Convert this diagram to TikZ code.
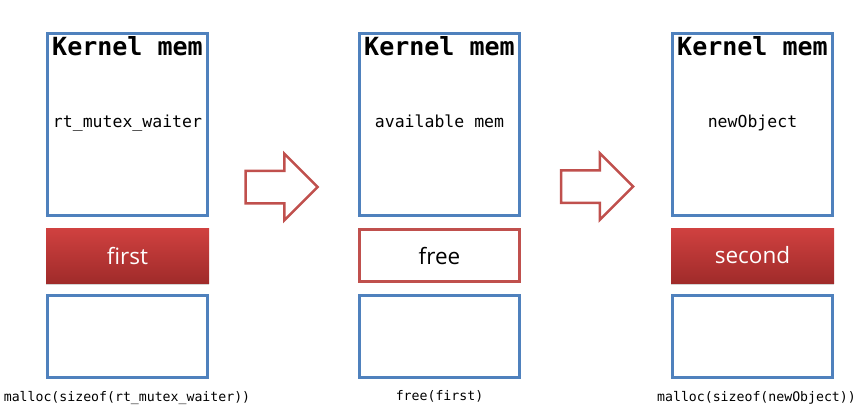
\documentclass[tikz,border=0pt]{standalone}
\usepackage{fontspec}
\setmonofont{DejaVu Sans Mono}
\newfontfamily\chunkfont{Open Sans}
\usetikzlibrary{positioning,shapes.arrows,shadows}
\definecolor{boxblue}{HTML}{4F81BD}
\definecolor{boxred}{HTML}{C0504D}
\definecolor{redtop}{HTML}{D04140}
\definecolor{redbot}{HTML}{A02B2A}
\tikzset{
  membox/.style={draw=boxblue, line width=3pt, minimum width=160pt, inner sep=0pt},
  kernelbox/.style={membox, minimum height=182pt},
  slotbox/.style={membox, minimum height=82pt},
  chunk/.style={minimum width=163pt, minimum height=55pt, inner sep=0pt, font=\chunkfont\fontsize{22.5}{26}\selectfont},
  usedchunk/.style={chunk, top color=redtop, bottom color=redbot, text=white, drop shadow={shadow xshift=0pt, shadow yshift=-2pt, opacity=.35}},
  freechunk/.style={chunk, draw=boxred, line width=3pt, minimum width=160pt, minimum height=52pt},
  heading/.style={font=\ttfamily\bfseries\fontsize{25}{28}\selectfont, anchor=base},
  objname/.style={font=\ttfamily\fontsize{16.5}{19}\selectfont, anchor=base},
  callname/.style={font=\ttfamily\fontsize{13.2}{15}\selectfont, anchor=base},
  stepto/.style={single arrow, draw=boxred, line width=2.5pt, fill=white, minimum height=72pt, inner xsep=0pt, inner ysep=15pt, single arrow head extend=17pt, single arrow head indent=0pt}
}
\begin{document}
\begin{tikzpicture}[x=1pt,y=-1pt]
\useasboundingbox (0,0) rectangle (868,418);
\node[kernelbox] (k1) at (127.5,124.5) {};
\node[usedchunk] (c1) at (127.5,255.5) {first};
\node[slotbox] (s1) at (127.5,336.5) {};
\node[heading] (h1) at (127.5,55) {Kernel mem};
\node[objname] (o1) at (127.5,127.5) {rt\_mutex\_waiter};
\node[callname] (m1) at (127,401.5) {malloc(sizeof(rt\_mutex\_waiter))};

\node[stepto] (a1) at (273.5,187) {};

\node[kernelbox] (k2) at (439.5,124.5) {};
\node[freechunk] (c2) at (439.5,255.5) {free};
\node[slotbox] (s2) at (439.5,336.5) {};
\node[heading] (h2) at (439.5,55) {Kernel mem};
\node[objname] (o2) at (439.5,127.5) {available mem};
\node[callname] (m2) at (439.5,400) {free(first)};

\node[stepto] (a2) at (589,186.5) {};

\node[kernelbox] (k3) at (752.5,124.5) {};
\node[usedchunk] (c3) at (752.5,255.5) {second};
\node[slotbox] (s3) at (752.5,336.5) {};
\node[heading] (h3) at (752.5,55) {Kernel mem};
\node[objname] (o3) at (752.5,127.5) {newObject};
\node[callname] (m3) at (756.5,401.5) {malloc(sizeof(newObject))};
\end{tikzpicture}
\end{document}
